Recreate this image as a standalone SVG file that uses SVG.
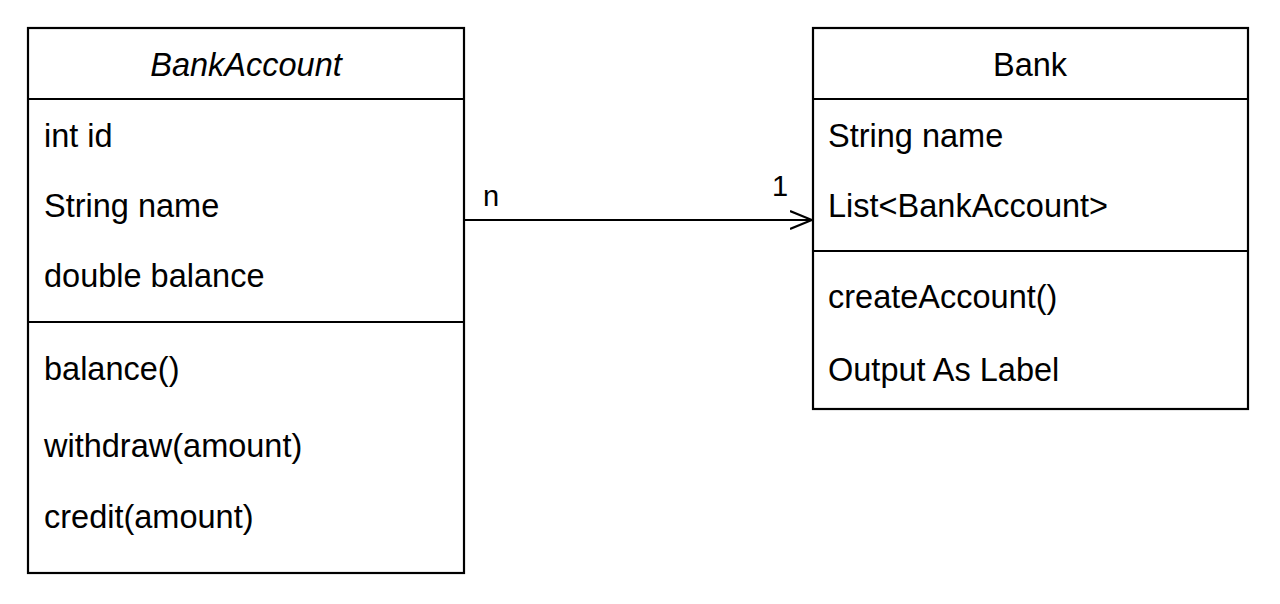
<svg xmlns="http://www.w3.org/2000/svg" width="1280" height="604" viewBox="0 0 1280 604">
<style>
.box{fill:#fff;stroke:#000;stroke-width:2.2}
.div{stroke:#000;stroke-width:2.2}
text{font-family:"Liberation Sans",Arial,sans-serif;font-size:32.5px;fill:#000}
.title{text-anchor:middle}
.lbl{font-size:29px}
.conn{stroke:#000;stroke-width:2.2;fill:none}
</style>
<defs>
<marker id="open" markerWidth="24" markerHeight="22" refX="22" refY="10" orient="auto" markerUnits="userSpaceOnUse">
<path d="M0,1 L22,10 L0,19" fill="none" stroke="#000" stroke-width="2.2"/>
</marker>
</defs>
<rect width="1280" height="604" fill="#fff"/>
<g id="BankAccount">
<rect class="box" x="28" y="28" width="436" height="545"/>
<line class="div" x1="28" y1="99" x2="464" y2="99"/>
<line class="div" x1="28" y1="322" x2="464" y2="322"/>
<text class="title" x="246" y="76" font-style="italic">BankAccount</text>
<text x="44" y="147">int id</text>
<text x="44" y="217">String name</text>
<text x="44" y="287">double balance</text>
<text x="44" y="380">balance()</text>
<text x="44" y="457">withdraw(amount)</text>
<text x="44" y="528">credit(amount)</text>
</g>
<g id="Bank">
<rect class="box" x="813" y="28" width="435" height="381"/>
<line class="div" x1="813" y1="99" x2="1248" y2="99"/>
<line class="div" x1="813" y1="251" x2="1248" y2="251"/>
<text class="title" x="1030" y="76">Bank</text>
<text x="828" y="147">String name</text>
<text x="828" y="217">List&lt;BankAccount&gt;</text>
<text x="828" y="308">createAccount()</text>
<text x="828" y="381">Output As Label</text>
</g>
<g id="connectors">
<line class="conn" x1="464" y1="220" x2="812" y2="220" marker-end="url(#open)"/>
<text class="lbl" x="483" y="206">n</text>
<text class="lbl" x="772" y="196">1</text>
</g>
</svg>
